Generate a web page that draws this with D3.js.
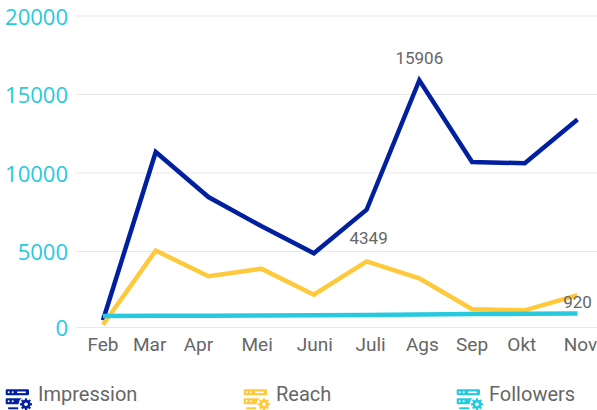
<!DOCTYPE html>
<html><head><meta charset="utf-8">
<script src="https://cdn.jsdelivr.net/npm/d3@7"></script>
<style>html,body{margin:0;padding:0;background:#fff}svg{display:block;font-family:Roboto,sans-serif}</style>
</head><body><div id="c"></div>
<script>
const months = ["Feb","Mar","Apr","Mei","Juni","Juli","Ags","Sep","Okt","Nov"];
const impression = [480,11340,8470,6620,4880,7660,15906,10700,10620,13410];
const reach = [180,5060,3370,3870,2160,4349,3240,1200,1130,2130];
const followers = [760,770,780,790,800,830,860,880,900,920];
const yTicks = [0,5000,10000,15000,20000];
const seriesNames = ["Impression","Reach","Followers"];
const seriesColors = ["#00209f","#ffc93c","#26c9de"];
const labelShift = [0,-6,-10,-4,1,4,3,0,-3,3];
const W=597,H=410;
const x=d3.scalePoint().domain(months).range([103,577.5]);
const y=d3.scaleLinear().domain([0,5000,20000]).range([327.5,251.5,16]);
const svg=d3.select("#c").append("svg").attr("width",W).attr("height",H);
svg.append("g").selectAll("line").data(yTicks).join("line")
  .attr("x1",76).attr("x2",597).attr("y1",d=>y(d)).attr("y2",d=>y(d))
  .attr("stroke","#e8e8e8").attr("stroke-width",1);
svg.append("g").selectAll("text").data(yTicks).join("text")
  .attr("x",68).attr("y",d=>y(d)+8.5).attr("text-anchor","end")
  .attr("font-family","'Open Sans',sans-serif")
  .attr("font-size",22).attr("fill","#26c9de").text(d=>d);
svg.append("g").selectAll("text").data(months).join("text")
  .attr("x",(d,i)=>x(d)+labelShift[i]).attr("y",351).attr("text-anchor","middle")
  .attr("font-size",19).attr("fill","#666").text(d=>d);
const line=d3.line().x((d,i)=>x(months[i])).y(d=>y(d)).curve(d3.curveLinear);
[impression,reach,followers].forEach((s,k)=>{
  svg.append("path").attr("d",line(s)).attr("fill","none").attr("stroke",seriesColors[k])
    .attr("stroke-width",4.5).attr("stroke-linejoin","miter");
});
const labels=[[months[6],impression[6],-16,0],[months[5],reach[5],-17,2],[months[9],followers[9],-6,0]];
svg.append("g").selectAll("text").data(labels).join("text")
  .attr("x",d=>x(d[0])+d[3]).attr("y",d=>y(d[1])+d[2]).attr("text-anchor","middle")
  .attr("font-size",17).attr("fill","#666").text(d=>d[1]);
const legendX=[5.7,243.7,456.7];
const gear=d3.range(8);
seriesNames.forEach((n,i)=>{
  const c=seriesColors[i];
  const g=svg.append("g").attr("transform",`translate(${legendX[i]},389.3)`).attr("fill",c);
  g.append("rect").attr("x",0).attr("y",0).attr("width",23.3).attr("height",6).attr("rx",1.2);
  g.append("rect").attr("x",0).attr("y",9).attr("width",23.3).attr("height",6).attr("rx",1.2);
  g.append("rect").attr("x",2.5).attr("y",18).attr("width",10).attr("height",2);
  [[3,3],[7,3],[3,12],[7,12]].forEach(p=>g.append("circle").attr("cx",p[0]).attr("cy",p[1]).attr("r",1).attr("fill","#fff"));
  g.append("rect").attr("x",11.5).attr("y",2.2).attr("width",8.5).attr("height",1.6).attr("fill","#fff");
  g.append("circle").attr("cx",20.3).attr("cy",15).attr("r",7.5).attr("fill","#fff");
  g.append("circle").attr("cx",20.3).attr("cy",15).attr("r",4.6);
  gear.forEach(a=>g.append("rect").attr("x",19.2).attr("y",9).attr("width",2.2).attr("height",2).attr("transform",`rotate(${a*45} 20.3 15)`));
  g.append("circle").attr("cx",20.3).attr("cy",15).attr("r",1.8).attr("fill","#fff");
  svg.append("text").attr("x",legendX[i]+32.3).attr("y",401).attr("font-size",20).attr("fill","#666").text(n);
});
</script></body></html>
